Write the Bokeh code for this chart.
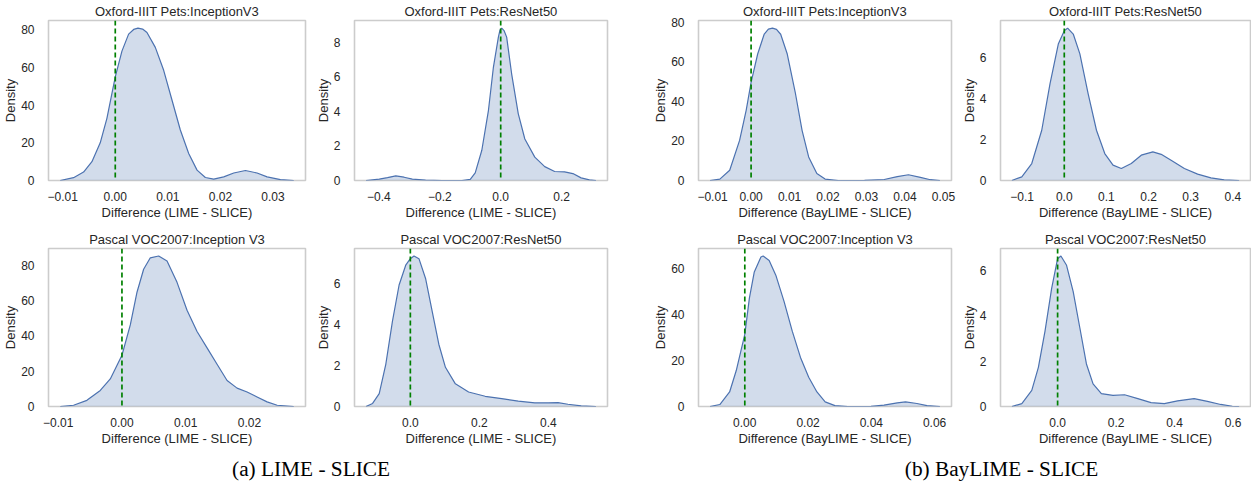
from bokeh.plotting import figure
from bokeh.models import Range1d, FixedTicker, Span, Label
from bokeh.layouts import column, row
from bokeh.embed import file_html
from bokeh.resources import INLINE

# ---------------- data ----------------
titles = [
    "Oxford-IIIT Pets:InceptionV3", "Oxford-IIIT Pets:ResNet50",
    "Oxford-IIIT Pets:InceptionV3", "Oxford-IIIT Pets:ResNet50",
    "Pascal VOC2007:Inception V3", "Pascal VOC2007:ResNet50",
    "Pascal VOC2007:Inception V3", "Pascal VOC2007:ResNet50",
]
xlabels = [
    "Difference (LIME - SLICE)", "Difference (LIME - SLICE)",
    "Difference (BayLIME - SLICE)", "Difference (BayLIME - SLICE)",
    "Difference (LIME - SLICE)", "Difference (LIME - SLICE)",
    "Difference (BayLIME - SLICE)", "Difference (BayLIME - SLICE)",
]
captions = ["(a) LIME - SLICE", "(b) BayLIME - SLICE"]
reference_value = 0.0

# LIME - SLICE, Oxford-IIIT Pets, InceptionV3
lime_pets_inc_x = [-0.01048, -0.00794, -0.00603, -0.00444, -0.00286, -0.00159, 0.0, 0.00127,
                   0.00254, 0.0035, 0.00432, 0.0052, 0.00603, 0.00762, 0.00921, 0.0108,
                   0.01238, 0.01397, 0.01556, 0.01714, 0.01873, 0.02063, 0.02254, 0.02476,
                   0.02698, 0.02889, 0.03143, 0.03397]
lime_pets_inc_y = [0.0, 1.5, 4.5, 10.0, 20.0, 33.0, 55.0, 68.7,
                   77.7, 80.2, 80.9, 80.4, 78.6, 70.7, 58.5, 42.6,
                   26.8, 14.3, 5.5, 1.6, 0.7, 1.9, 4.0, 5.3,
                   4.0, 1.9, 0.5, 0.0]

# LIME - SLICE, Oxford-IIIT Pets, ResNet50
lime_pets_res_x = [-0.4424, -0.3989, -0.3717, -0.3446, -0.3174, -0.2902, -0.2467, -0.1924,
                   -0.1272, -0.1, -0.0837, -0.062, -0.0402, -0.0239, -0.0076, -0.0022,
                   0.0033, 0.0109, 0.0196, 0.0359, 0.0576, 0.0793, 0.112, 0.1446,
                   0.1772, 0.2098, 0.237, 0.2641, 0.2913, 0.313]
lime_pets_res_y = [0.0, 0.08, 0.17, 0.27, 0.19, 0.08, 0.02, 0.0,
                   0.0, 0.06, 0.44, 1.75, 4.06, 6.56, 8.29, 8.71,
                   8.81, 8.67, 8.29, 6.17, 3.87, 2.4, 1.35, 0.8,
                   0.52, 0.5, 0.4, 0.15, 0.04, 0.0]

# BayLIME - SLICE, Oxford-IIIT Pets, InceptionV3
bay_pets_inc_x = [-0.01068, -0.00812, -0.00556, -0.00299, -0.00128, 0.0, 0.00171, 0.00342,
                  0.0045, 0.00556, 0.0066, 0.00769, 0.0094, 0.01154, 0.01325, 0.01496,
                  0.01709, 0.01923, 0.02265, 0.02949, 0.0346, 0.038, 0.0409, 0.044,
                  0.0466, 0.0491]
bay_pets_inc_y = [0.0, 0.7, 5.2, 20.3, 35.5, 49.7, 64.0, 74.1,
                  76.6, 77.1, 76.5, 74.0, 64.0, 43.9, 25.4, 11.9,
                  3.5, 0.7, 0.0, 0.1, 0.5, 2.0, 2.9, 1.6,
                  0.4, 0.0]

# BayLIME - SLICE, Oxford-IIIT Pets, ResNet50
bay_pets_res_x = [-0.1244, -0.1008, -0.0772, -0.0535, -0.0339, -0.0142, 0.0, 0.0079,
                  0.0213, 0.037, 0.0567, 0.0764, 0.0961, 0.1157, 0.1354, 0.159,
                  0.1827, 0.2102, 0.23, 0.2535, 0.285, 0.3165, 0.348, 0.3795, 0.415]
bay_pets_res_y = [0.0, 0.18, 0.83, 2.46, 4.73, 6.68, 7.33, 7.46,
                  7.17, 6.2, 4.24, 2.46, 1.32, 0.75, 0.59, 0.83,
                  1.24, 1.4, 1.28, 0.99, 0.59, 0.31, 0.13, 0.03, 0.0]

# LIME - SLICE, Pascal VOC2007, Inception V3
lime_voc_inc_x = [-0.00969, -0.00759, -0.0055, -0.0034, -0.00183, 0.0, 0.00131, 0.00236,
                  0.0034, 0.00445, 0.00576, 0.00707, 0.00864, 0.01021, 0.01178, 0.01335,
                  0.01492, 0.01649, 0.01806, 0.01963, 0.0212, 0.02277, 0.02435, 0.02696]
lime_voc_inc_y = [0.0, 0.7, 3.5, 9.1, 15.6, 29.0, 46.2, 64.7,
                  77.7, 84.2, 85.2, 82.4, 70.3, 54.5, 42.5, 33.2,
                  23.9, 14.7, 10.4, 8.2, 5.4, 2.6, 0.7, 0.0]

# LIME - SLICE, Pascal VOC2007, ResNet50
lime_voc_res_x = [-0.1285, -0.1094, -0.0902, -0.071, -0.0518, -0.0326, -0.0134, 0.0,
                  0.0106, 0.0249, 0.0441, 0.0633, 0.0825, 0.1017, 0.1305, 0.1688,
                  0.2168, 0.2647, 0.3127, 0.3607, 0.399, 0.4278, 0.4566, 0.495, 0.538]
lime_voc_res_y = [0.0, 0.15, 0.63, 2.08, 4.18, 5.95, 6.92, 7.24,
                  7.37, 7.24, 6.27, 4.66, 3.05, 1.92, 1.11, 0.71,
                  0.5, 0.39, 0.26, 0.18, 0.18, 0.19, 0.11, 0.03, 0.0]

# BayLIME - SLICE, Pascal VOC2007, Inception V3
bay_voc_inc_x = [-0.011, -0.0079, -0.0048, -0.0027, 0.0, 0.00145, 0.003, 0.0051,
                 0.0058, 0.0077, 0.0098, 0.0124, 0.015, 0.0176, 0.0202, 0.0228,
                 0.0254, 0.0285, 0.0326, 0.0399, 0.044, 0.0482, 0.0508, 0.0544,
                 0.0576, 0.0617]
bay_voc_inc_y = [0.0, 0.86, 6.3, 15.6, 31.3, 47.0, 58.4, 64.9,
                 65.3, 63.4, 57.0, 45.6, 32.7, 21.3, 12.7, 6.3,
                 2.0, 0.4, 0.0, 0.05, 0.6, 1.6, 2.0, 1.3,
                 0.4, 0.0]

# BayLIME - SLICE, Pascal VOC2007, ResNet50
bay_voc_res_x = [-0.1565, -0.1224, -0.0884, -0.0658, -0.0431, -0.0204, 0.0, 0.0113,
                 0.0306, 0.0533, 0.076, 0.0986, 0.1213, 0.1497, 0.1893, 0.229,
                 0.2744, 0.3197, 0.365, 0.4104, 0.467, 0.5125, 0.558, 0.5975, 0.621]
bay_voc_res_y = [0.0, 0.13, 0.71, 1.73, 3.33, 5.22, 6.53, 6.65,
                 6.24, 5.08, 3.48, 1.88, 1.0, 0.57, 0.49, 0.52,
                 0.35, 0.17, 0.13, 0.25, 0.35, 0.23, 0.09, 0.01, 0.0]

# tick values and labels
xt_inc_pets_lime = [-0.01, 0.0, 0.01, 0.02, 0.03]
xl_inc_pets_lime = ["\u22120.01", "0.00", "0.01", "0.02", "0.03"]
xt_res_pets_lime = [-0.4, -0.2, 0.0, 0.2]
xl_res_pets_lime = ["\u22120.4", "\u22120.2", "0.0", "0.2"]
xt_inc_pets_bay = [-0.01, 0.0, 0.01, 0.02, 0.03, 0.04, 0.05]
xl_inc_pets_bay = ["\u22120.01", "0.00", "0.01", "0.02", "0.03", "0.04", "0.05"]
xt_res_pets_bay = [-0.1, 0.0, 0.1, 0.2, 0.3, 0.4]
xl_res_pets_bay = ["\u22120.1", "0.0", "0.1", "0.2", "0.3", "0.4"]
xt_inc_voc_lime = [-0.01, 0.0, 0.01, 0.02]
xl_inc_voc_lime = ["\u22120.01", "0.00", "0.01", "0.02"]
xt_res_voc_lime = [0.0, 0.2, 0.4]
xl_res_voc_lime = ["0.0", "0.2", "0.4"]
xt_inc_voc_bay = [0.0, 0.02, 0.04, 0.06]
xl_inc_voc_bay = ["0.00", "0.02", "0.04", "0.06"]
xt_res_voc_bay = [0.0, 0.2, 0.4, 0.6]
xl_res_voc_bay = ["0.0", "0.2", "0.4", "0.6"]

yt_80 = [0, 20, 40, 60, 80]
yt_60 = [0, 20, 40, 60]
yt_8 = [0, 2, 4, 6, 8]
yt_6 = [0, 2, 4, 6]

# ---------------- styling ----------------
FONT = "Liberation Sans"
TXT = "#262626"
BLUE = "#4c72b0"


def panel(title, xlabel, xs, ys, xt, xl, yt, width, height, bl, br, bt, bb):
    span = max(xs) - min(xs)
    x0 = min(xs) - 0.05 * span
    x1 = max(xs) + 0.05 * span
    p = figure(width=width, height=height, output_backend="svg", toolbar_location=None,
               x_range=Range1d(x0, x1), y_range=Range1d(0, max(ys) * 1.05),
               min_border_left=bl, min_border_right=br, min_border_top=bt,
               min_border_bottom=bb)
    p.title.text = title
    p.title.align = "center"
    p.title.text_font = FONT
    p.title.text_font_size = "13px"
    p.title.text_font_style = "normal"
    p.title.text_color = TXT
    p.title.standoff = 3
    p.varea(x=xs, y1=[0] * len(xs), y2=ys, fill_color=BLUE, fill_alpha=0.25)
    p.line(x=xs, y=ys, line_color=BLUE, line_width=1.2)
    p.add_layout(Span(location=reference_value, dimension="height", line_color="green",
                      line_width=1.7, line_dash="5 3"))
    p.xgrid.visible = False
    p.ygrid.visible = False
    p.outline_line_color = "#cccccc"
    p.outline_line_width = 1.6
    p.background_fill_color = "white"
    p.border_fill_color = "white"
    p.xaxis.ticker = FixedTicker(ticks=xt)
    p.xaxis.major_label_overrides = dict(zip(xt, xl))
    p.yaxis.ticker = FixedTicker(ticks=yt)
    p.xaxis.axis_label = xlabel
    p.yaxis.axis_label = "Density"
    for ax in (p.xaxis, p.yaxis):
        ax.axis_line_color = None
        ax.major_tick_line_color = None
        ax.minor_tick_line_color = None
        ax.major_label_text_font = FONT
        ax.major_label_text_font_size = "12px"
        ax.major_label_text_color = TXT
        ax.axis_label_text_font = FONT
        ax.axis_label_text_font_size = "13px"
        ax.axis_label_text_font_style = "normal"
        ax.axis_label_text_color = TXT
    p.xaxis.major_label_standoff = 5
    p.xaxis.axis_label_standoff = 1
    p.yaxis.major_label_standoff = 8
    p.yaxis.axis_label_standoff = 0
    return p


widths = [312, 338, 308, 293]
bls = [48, 40, 46, 40]
brs = [7, 43, 7, 1]

row1_specs = [
    (lime_pets_inc_x, lime_pets_inc_y, xt_inc_pets_lime, xl_inc_pets_lime, yt_80),
    (lime_pets_res_x, lime_pets_res_y, xt_res_pets_lime, xl_res_pets_lime, yt_8),
    (bay_pets_inc_x, bay_pets_inc_y, xt_inc_pets_bay, xl_inc_pets_bay, yt_80),
    (bay_pets_res_x, bay_pets_res_y, xt_res_pets_bay, xl_res_pets_bay, yt_6),
]
row2_specs = [
    (lime_voc_inc_x, lime_voc_inc_y, xt_inc_voc_lime, xl_inc_voc_lime, yt_80),
    (lime_voc_res_x, lime_voc_res_y, xt_res_voc_lime, xl_res_voc_lime, yt_6),
    (bay_voc_inc_x, bay_voc_inc_y, xt_inc_voc_bay, xl_inc_voc_bay, yt_60),
    (bay_voc_res_x, bay_voc_res_y, xt_res_voc_bay, xl_res_voc_bay, yt_6),
]

r1 = []
for i, (xs, ys, xt, xl, yt) in enumerate(row1_specs):
    r1.append(panel(titles[i], xlabels[i], xs, ys, xt, xl, yt,
                    widths[i], 224, bls[i], brs[i], 19, 44))
r2 = []
for i, (xs, ys, xt, xl, yt) in enumerate(row2_specs):
    r2.append(panel(titles[4 + i], xlabels[4 + i], xs, ys, xt, xl, yt,
                    widths[i], 224, bls[i], brs[i], 24, 40))

total_w = sum(widths)
cap_h = 36
cap = figure(width=total_w, height=cap_h, output_backend="svg", toolbar_location=None,
             x_range=Range1d(0, total_w), y_range=Range1d(0, cap_h), min_border=0,
             x_axis_type=None, y_axis_type=None)
cap.outline_line_color = None
cap.xgrid.visible = False
cap.ygrid.visible = False
cap_x = [310.5, 1001]
for txt, cx in zip(captions, cap_x):
    cap.add_layout(Label(x=cx, y=16, text=txt, text_font="Liberation Serif",
                         text_font_size="21.3px", text_color="black",
                         text_align="center", text_baseline="middle"))

layout = column(row(*r1), row(*r2), cap)

open("out.html", "w").write(file_html(layout, INLINE))
